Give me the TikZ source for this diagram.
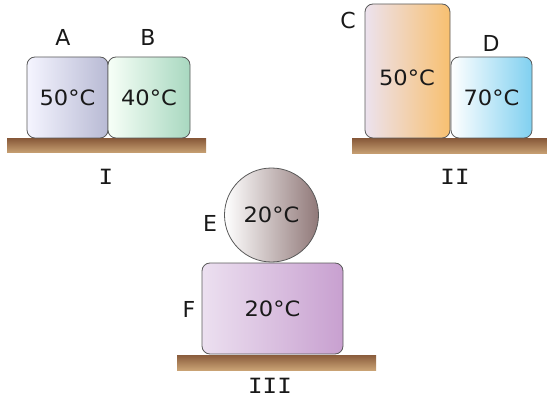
\documentclass[tikz,border=0pt]{standalone}
\usepackage{fontspec}
\setmainfont{DejaVu Sans}
\newfontfamily\romfont{DejaVu Sans Mono}
\usetikzlibrary{shapes.geometric}
\definecolor{edgec}{HTML}{5A5A5A}
\definecolor{floortop}{HTML}{8A5C3C}
\definecolor{floorbot}{HTML}{C9A274}
\newcommand{\tmp}[1]{\scalebox{1.1}[1.03]{#1}}
\tikzset{
  block/.style={draw=edgec, line width=0.8pt, rounded corners=8pt, inner sep=0pt, font=\fontsize{20.5}{22}\selectfont, text=black!90},
  ball/.style={draw=edgec, line width=0.8pt, circle, inner sep=0pt, font=\fontsize{20.5}{22}\selectfont, text=black!90},
  temptext/.style={inner sep=0pt, font=\fontsize{20.5}{22}\selectfont, text=black!90},
  floor/.style={draw=none, inner sep=0pt, top color=floortop, bottom color=floorbot},
  lab/.style={font=\fontsize{22}{24}\selectfont, text=black!90, inner sep=0pt},
  rom/.style={font=\romfont\fontsize{21}{24}\selectfont, text=black!90, inner sep=0pt, xscale=1.15, transform shape},
}
\begin{document}
\begin{tikzpicture}[x=1pt,y=-1pt]
\useasboundingbox (0,0) rectangle (547,404);
% group I
\node[floor, minimum width=199pt, minimum height=14pt] (f1) at (106.5,146) {};
\node[block, minimum width=81pt, minimum height=81pt, left color=white!96!blue, right color={rgb,255:red,184;green,186;blue,212}] (A) at (67.5,97.5) {\tmp{50°C}};
\node[block, minimum width=82pt, minimum height=81pt, left color=white!97!green, right color={rgb,255:red,168;green,216;blue,192}] (B) at (149,97.5) {\tmp{40°C}};
\node[lab] (la) at (63,37) {A};
\node[lab] (lb) at (148,37) {B};
\node[rom] (l1) at (106,177) {I};
% group II
\node[floor, minimum width=195pt, minimum height=15pt] (f2) at (449.5,146.5) {};
\node[block, minimum width=85pt, minimum height=134pt, left color={rgb,255:red,236;green,226;blue,238}, right color={rgb,255:red,248;green,192;blue,112}] (C) at (407.5,71) {};
\node[temptext] (tc) at (407,78) {\tmp{50°C}};
\node[block, minimum width=81pt, minimum height=81pt, left color=white, right color={rgb,255:red,128;green,208;blue,240}] (D) at (491.5,97.5) {\tmp{70°C}};
\node[lab] (lc) at (348,20) {C};
\node[lab] (ld) at (491,43) {D};
\node[rom] (l2) at (455,177) {II};
% group III
\node[floor, minimum width=199pt, minimum height=15pt] (f3) at (276.5,362.5) {};
\node[block, minimum width=141pt, minimum height=91pt, left color={rgb,255:red,236;green,224;blue,240}, right color={rgb,255:red,200;green,160;blue,208}] (F) at (272.5,308.5) {\tmp{20°C}};
\node[ball, minimum size=94pt, left color=white, right color={rgb,255:red,144;green,120;blue,120}] (E) at (271.5,215) {\tmp{20°C}};
\node[lab] (le) at (210,223) {E};
\node[lab] (lf) at (189,309) {F};
\node[rom] (l3) at (270,386) {III};
\end{tikzpicture}
\end{document}
